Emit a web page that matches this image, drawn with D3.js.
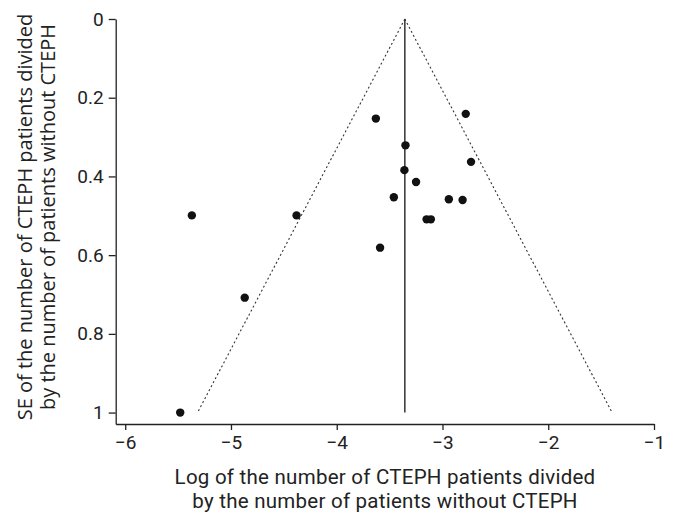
<!DOCTYPE html>
<html>
<head>
<meta charset="utf-8">
<script src="https://cdn.jsdelivr.net/npm/d3@7"></script>
<style>
  body { margin: 0; background: #fff; }
  svg { display: block; }
  .tick text { font-family: Roboto, "Liberation Sans", sans-serif; font-size: 19px; fill: #222; }
  .xtitle { font-family: Roboto, "Liberation Sans", sans-serif; font-size: 20.5px; letter-spacing: 0.25px; fill: #222; }
  .ytitle { font-family: "Open Sans", "Noto Sans", sans-serif; font-size: 20px; fill: #222; }
</style>
</head>
<body>
<svg id="chart"></svg>
<script>
// study estimates
var logRatio = [-3.63, -2.78, -3.35, -2.73, -3.36, -3.25, -3.46, -2.94, -2.81, -5.37, -4.38, -3.15, -3.11, -3.59, -4.87, -5.48];
var se       = [0.253, 0.241, 0.321, 0.363, 0.384, 0.414, 0.453, 0.458, 0.460, 0.499, 0.499, 0.509, 0.509, 0.581, 0.708, 1.0];
var pooled = -3.356;
var z = 1.96;
var xTicks = [-6, -5, -4, -3, -2, -1];
var yTicks = [0, 0.2, 0.4, 0.6, 0.8, 1];
var xTitle = ["Log of the number of CTEPH patients divided", "by the number of patients without CTEPH"];
var yTitle = ["SE of the number of CTEPH patients divided", "by the number of patients without CTEPH"];

var width = 674, height = 513;
var svg = d3.select("#chart").attr("width", width).attr("height", height);

// axis domains run a little past the ticks so the two axes meet in a corner
var x = d3.scaleLinear().domain([-6.09, -1]).range([115.7, 654]);
var y = d3.scaleLinear().domain([0, 1.029]).range([19, 424]);

var fmtY = function (d) { return d === 0 || d === 1 ? String(d) : d3.format(".1f")(d); };

svg.append("g")
  .attr("transform", "translate(115.7,0)")
  .call(d3.axisLeft(y).tickValues(yTicks).tickFormat(fmtY).tickSize(7).tickSizeOuter(0).tickPadding(5))
  .call(g => g.selectAll("path, line").attr("stroke", "#222").attr("stroke-width", 1.3));

svg.append("g")
  .attr("transform", "translate(0,424)")
  .call(d3.axisBottom(x).tickValues(xTicks).tickFormat(d3.format("d")).tickSize(6).tickSizeOuter(0).tickPadding(6))
  .call(g => g.selectAll("path, line").attr("stroke", "#222").attr("stroke-width", 1.3));

// funnel: pooled estimate and 95% limits
svg.append("line")
  .attr("x1", x(pooled)).attr("x2", x(pooled))
  .attr("y1", y(0)).attr("y2", y(1))
  .attr("stroke", "#333").attr("stroke-width", 1.5);

[-1, 1].forEach(function (s) {
  svg.append("line")
    .attr("x1", x(pooled)).attr("y1", y(0))
    .attr("x2", x(pooled + s * z * 1)).attr("y2", y(1))
    .attr("stroke", "#333").attr("stroke-width", 1.1)
    .attr("stroke-dasharray", "2,2.5");
});

svg.append("g").selectAll("circle")
  .data(logRatio)
  .enter()
  .append("circle")
  .attr("cx", d => x(d))
  .attr("cy", (d, i) => y(se[i]))
  .attr("r", 4.2)
  .attr("fill", "#111");

// titles
svg.append("text").attr("class", "xtitle")
  .attr("text-anchor", "middle")
  .selectAll("tspan").data(xTitle).enter().append("tspan")
  .attr("x", 385).attr("y", (d, i) => 484 + i * 24)
  .text(d => d);

svg.append("text").attr("class", "ytitle")
  .attr("text-anchor", "middle")
  .attr("transform", "translate(0,217) rotate(-90)")
  .selectAll("tspan").data(yTitle).enter().append("tspan")
  .attr("x", 0).attr("y", (d, i) => 31.5 + i * 23.5)
  .text(d => d);
</script>
</body>
</html>
